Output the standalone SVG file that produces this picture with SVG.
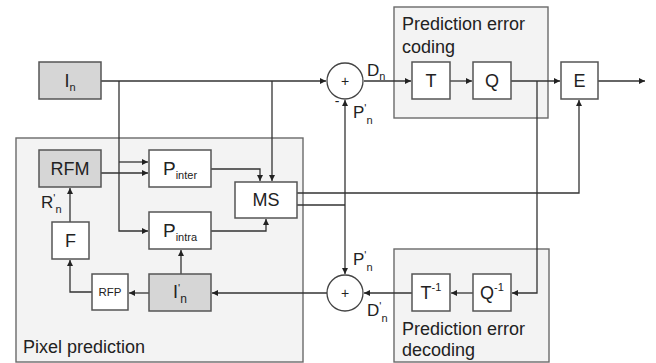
<svg xmlns="http://www.w3.org/2000/svg" width="656" height="363" viewBox="0 0 656 363">
<style>
.grp{fill:#f3f3f3;stroke:#6a6a6a;stroke-width:1.4}
.box{fill:#ffffff;stroke:#555;stroke-width:1.5}
.gbox{fill:#d6d6d6;stroke:#555;stroke-width:1.5}
.sum{fill:#ffffff;stroke:#444;stroke-width:1.3}
.c{fill:none;stroke:#333;stroke-width:1.3}
text{font-family:"Liberation Sans",Arial,sans-serif;fill:#222}
.t18{font-size:18px}
.lbl{font-size:17px}
.sub{font-size:11px}
</style>
<defs>
<marker id="ah" markerUnits="userSpaceOnUse" markerWidth="7" markerHeight="6" refX="6" refY="3" orient="auto">
<path d="M0,0 L6,3 L0,6 Z" fill="#222"/>
</marker>
</defs>

<g id="group-pixel-prediction">
<rect class="grp" x="16" y="138" width="287" height="224"/>
<text class="t18" x="23" y="353">Pixel prediction</text>
</g>
<g id="group-pe-coding">
<rect class="grp" x="394" y="7" width="154" height="111"/>
<text class="t18" x="402" y="30">Prediction error</text>
<text class="t18" x="402" y="53">coding</text>
</g>
<g id="group-pe-decoding">
<rect class="grp" x="394" y="249" width="155" height="113"/>
<text class="t18" x="402" y="335">Prediction error</text>
<text class="t18" x="402" y="356">decoding</text>
</g>

<g id="connectors">
<path class="c" d="M101,81 H326" marker-end="url(#ah)"/>
<path class="c" d="M119,81 V231 H148" marker-end="url(#ah)"/>
<path class="c" d="M119,162 H148" marker-end="url(#ah)"/>
<path class="c" d="M101,173 H148" marker-end="url(#ah)"/>
<path class="c" d="M272,81 V181" marker-end="url(#ah)"/>
<path class="c" d="M211,169 H260 V181" marker-end="url(#ah)"/>
<path class="c" d="M211,231 H266 V219" marker-end="url(#ah)"/>
<path class="c" d="M297,193 H579 V100" marker-end="url(#ah)"/>
<path class="c" d="M297,205 H345"/>
<path class="c" d="M345,205 V100" marker-end="url(#ah)"/>
<path class="c" d="M345,205 V274" marker-end="url(#ah)"/>
<path class="c" d="M364,81 H411" marker-end="url(#ah)"/>
<path class="c" d="M450,81 H472" marker-end="url(#ah)"/>
<path class="c" d="M511,81 H560" marker-end="url(#ah)"/>
<path class="c" d="M598,81 H645" marker-end="url(#ah)"/>
<path class="c" d="M537,81 V293 H512" marker-end="url(#ah)"/>
<path class="c" d="M473,293 H451" marker-end="url(#ah)"/>
<path class="c" d="M412,293 H364" marker-end="url(#ah)"/>
<path class="c" d="M327,293 H212" marker-end="url(#ah)"/>
<path class="c" d="M149,293 H129" marker-end="url(#ah)"/>
<path class="c" d="M92,292 H70 V260" marker-end="url(#ah)"/>
<path class="c" d="M70,222 V188" marker-end="url(#ah)"/>
<path class="c" d="M181,274 V250" marker-end="url(#ah)"/>
</g>

<g id="node-In">
<rect class="gbox" x="39" y="62" width="62" height="37"/>
<text class="t18" x="70" y="87" text-anchor="middle">I<tspan class="sub" dy="4">n</tspan></text>
</g>
<g id="node-RFM">
<rect class="gbox" x="39" y="150" width="62" height="37"/>
<text class="t18" x="70" y="175" text-anchor="middle">RFM</text>
</g>
<g id="node-Pinter">
<rect class="box" x="149" y="150" width="62" height="37"/>
<text x="180" y="175" text-anchor="middle"><tspan font-size="19">P</tspan><tspan class="sub" font-size="12" dy="4">inter</tspan></text>
</g>
<g id="node-MS">
<rect class="box" x="235" y="182" width="62" height="36"/>
<text class="t18" x="266" y="206" text-anchor="middle">MS</text>
</g>
<g id="node-Pintra">
<rect class="box" x="149" y="212" width="62" height="37"/>
<text x="180" y="237" text-anchor="middle"><tspan font-size="19">P</tspan><tspan class="sub" font-size="12" dy="4">intra</tspan></text>
</g>
<g id="node-F">
<rect class="box" x="52" y="222" width="37" height="37"/>
<text class="t18" x="70.5" y="247" text-anchor="middle">F</text>
</g>
<g id="label-Rn">
<text class="lbl" x="41" y="208">R<tspan font-size="11" dy="-6">'</tspan><tspan font-size="11" dy="11">n</tspan></text>
</g>
<g id="node-RFP">
<rect class="box" x="92" y="274" width="36" height="36"/>
<text x="110" y="296" font-size="11.5" text-anchor="middle">RFP</text>
</g>
<g id="node-In-prime">
<rect class="gbox" x="149" y="274" width="62" height="37"/>
<text class="t18" x="180" y="298" text-anchor="middle">I<tspan font-size="11" dy="-6">'</tspan><tspan font-size="12" dy="11">n</tspan></text>
</g>
<g id="node-sum-top">
<circle class="sum" cx="345" cy="81" r="18"/>
<text x="345" y="86" font-size="14" text-anchor="middle">+</text>
<text x="337" y="106" font-size="14" text-anchor="middle">-</text>
<text class="lbl" x="367" y="76">D<tspan font-size="11" dy="4">n</tspan></text>
<text class="lbl" x="353" y="118">P<tspan font-size="11" dy="-6">'</tspan><tspan font-size="11" dy="12">n</tspan></text>
</g>
<g id="node-sum-bottom">
<circle class="sum" cx="345" cy="293" r="18"/>
<text x="345" y="298" font-size="14" text-anchor="middle">+</text>
<text class="lbl" x="353" y="265">P<tspan font-size="11" dy="-6">'</tspan><tspan font-size="11" dy="12">n</tspan></text>
<text class="lbl" x="367" y="316">D<tspan font-size="11" dy="-6">'</tspan><tspan font-size="11" dy="12">n</tspan></text>
</g>
<g id="node-T">
<rect class="box" x="412" y="62" width="38" height="37"/>
<text class="t18" x="431" y="87" text-anchor="middle">T</text>
</g>
<g id="node-Q">
<rect class="box" x="473" y="62" width="38" height="37"/>
<text class="t18" x="492" y="87" text-anchor="middle">Q</text>
</g>
<g id="node-E">
<rect class="box" x="561" y="62" width="37" height="37"/>
<text class="t18" x="579.5" y="87" text-anchor="middle">E</text>
</g>
<g id="node-Tinv">
<rect class="box" x="412" y="274" width="38" height="37"/>
<text class="t18" x="431" y="299" text-anchor="middle">T<tspan font-size="11" dy="-8">-1</tspan></text>
</g>
<g id="node-Qinv">
<rect class="box" x="473" y="274" width="38" height="37"/>
<text class="t18" x="492" y="299" text-anchor="middle">Q<tspan font-size="11" dy="-8">-1</tspan></text>
</g>
</svg>
